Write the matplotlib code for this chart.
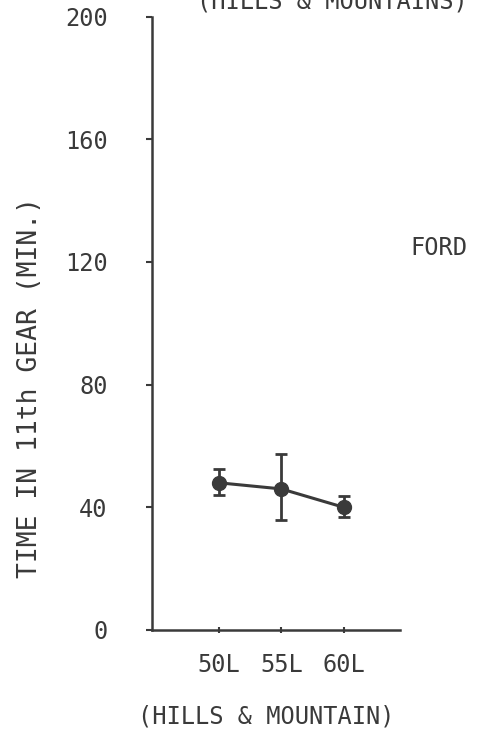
import matplotlib.pyplot as plt

# speed settings, hills & mountains
labels = ["50L", "55L", "60L"]
means = [48, 46, 40]
err_low = [44, 36, 36.7]
err_high = [52.5, 57.5, 43.7]
yticks = [0, 40, 80, 120, 160, 200]

ink = "#3a3a3a"
mono = "DejaVu Sans Mono"

fig = plt.figure(figsize=(4.86, 7.39), dpi=100)
ax = fig.add_axes([0.313, 0.1475, 0.510, 0.830])

xs = [1, 2, 3]
yerr = [[m - lo for m, lo in zip(means, err_low)],
        [hi - m for m, hi in zip(means, err_high)]]
ax.errorbar(xs, means, yerr=yerr, color=ink, marker="o", markersize=10,
            linewidth=2.2, elinewidth=2, capsize=4.5, capthick=2)

ax.set_xlim(-0.07, 3.9)
ax.set_ylim(0, 200)
ax.set_xticks(xs)
ax.set_xticklabels(labels)
ax.set_yticks(yticks)

for s in ["top", "right"]:
    ax.spines[s].set_visible(False)
for s in ["left", "bottom"]:
    ax.spines[s].set_color(ink)
    ax.spines[s].set_linewidth(1.8)

ax.tick_params(axis="y", length=4, width=1.5, color=ink, pad=28,
               labelsize=17, labelcolor=ink)
ax.tick_params(axis="x", length=5, width=1.5, color=ink, pad=14,
               labelsize=17, labelcolor=ink, direction="inout")
for t in ax.get_xticklabels() + ax.get_yticklabels():
    t.set_family(mono)

fig.text(0.062, 0.476, "TIME IN 11th GEAR (MIN.)", rotation=90,
         ha="center", va="center", fontsize=19, color=ink, family=mono)
fig.text(0.548, 0.030, "(HILLS & MOUNTAIN)", ha="center", va="center",
         fontsize=17, color=ink, family=mono)
fig.text(0.683, 0.998, "(HILLS & MOUNTAINS)", ha="center", va="center",
         fontsize=17, color=ink, family=mono)
fig.text(0.903, 0.664, "FORD", ha="center", va="center",
         fontsize=17, color=ink, family=mono)

fig.savefig("out.png", dpi=100)
